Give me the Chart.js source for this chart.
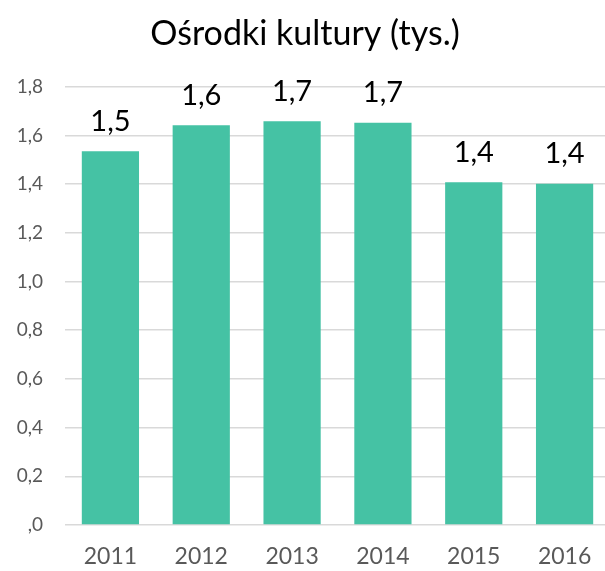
<!DOCTYPE html>
<html>
<head>
<meta charset="utf-8">
<script src="https://cdn.jsdelivr.net/npm/chart.js@4"></script>
<style>
  html, body { margin: 0; padding: 0; background: #fff; overflow: hidden; }
  #wrap { width: 610px; height: 571px; position: relative; }
</style>
</head>
<body>
<div id="wrap"><canvas id="kultura"></canvas></div>
<script>
const years = ['2011', '2012', '2013', '2014', '2015', '2016'];
const centres = [1.535, 1.642, 1.658, 1.652, 1.408, 1.402];
const yTicks = [0, 0.2, 0.4, 0.6, 0.8, 1.0, 1.2, 1.4, 1.6, 1.8];

const BAR = '#45c2a4';
const GRID = '#d9d9d9';
const TXT = '#595959';
const FONT = 'Lato, "Open Sans", sans-serif';

function plFmt(v) {
    if (v === 0) return ',0';
    return v.toFixed(1).replace('.', ',');
}

// value labels above each bar
const barLabels = {
    id: 'barLabels',
    afterDatasetsDraw(chart) {
        const ctx = chart.ctx;
        const meta = chart.getDatasetMeta(0);
        ctx.save();
        ctx.fillStyle = '#000';
        ctx.font = '29px ' + FONT;
        ctx.textAlign = 'center';
        ctx.textBaseline = 'middle';
        meta.data.forEach((bar, i) => {
            ctx.fillText(plFmt(centres[i]), bar.x, bar.y - 30);
        });
        ctx.restore();
    }
};

new Chart(document.getElementById('kultura'), {
    type: 'bar',
    data: {
        labels: years,
        datasets: [{
            data: centres,
            backgroundColor: BAR,
            borderWidth: 0,
            categoryPercentage: 1,
            barPercentage: 0.63
        }]
    },
    options: {
        responsive: true,
        maintainAspectRatio: false,
        animation: false,
        layout: { padding: { top: 0, right: 0, bottom: 0, left: 0 } },
        plugins: {
            legend: { display: false },
            tooltip: { enabled: false },
            title: {
                display: true,
                text: 'Ośrodki kultury (tys.)',
                color: '#000',
                font: { family: FONT, size: 34, weight: 'normal' },
                padding: { top: 14, bottom: 32 }
            }
        },
        scales: {
            x: {
                grid: { display: false, drawTicks: false },
                border: { display: false },
                ticks: {
                    color: TXT,
                    font: { family: FONT, size: 23 },
                    padding: 18
                },
                afterFit(s) { s.height = 46; }
            },
            y: {
                min: 0,
                max: 1.8,
                afterBuildTicks(s) { s.ticks = yTicks.map(v => ({ value: v })); },
                grid: { color: GRID, lineWidth: 1.5, drawTicks: false },
                border: { display: false },
                ticks: {
                    color: TXT,
                    font: { family: FONT, size: 19 },
                    padding: 22,
                    callback: v => plFmt(v)
                },
                afterFit(s) { s.width = 65; }
            }
        }
    },
    plugins: [barLabels]
});
</script>
</body>
</html>
